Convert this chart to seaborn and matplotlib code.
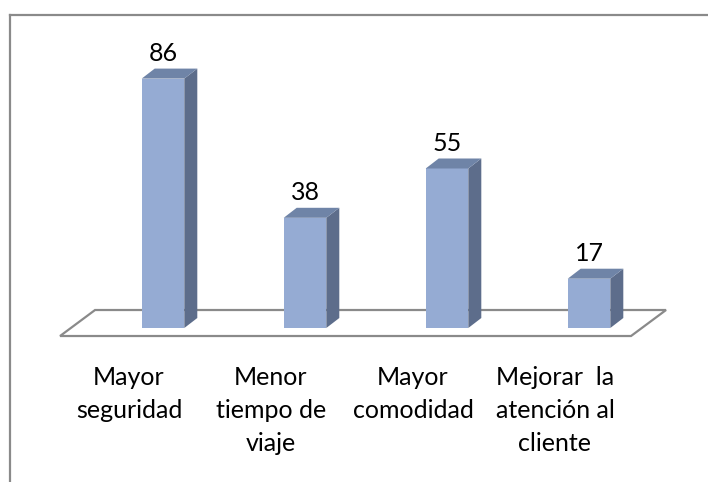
import pandas as pd
import matplotlib
matplotlib.use("Agg")
import matplotlib.pyplot as plt
import seaborn as sns
from matplotlib.patches import Polygon

# Data
categorias = ["Mayor\nseguridad", "Menor\ntiempo de\nviaje", "Mayor\ncomodidad", "Mejorar  la\natención al\ncliente"]
valores = [86, 38, 55, 17]

# Colours of the 3D bar faces
color_frente = "#95abd3"
color_lado = "#5d6d8b"
color_tapa = "#6f84a7"
color_borde = "#8a8a8a"

sns.set_theme(style="white")
plt.rcParams["font.family"] = ["Lato", "DejaVu Sans"]

fig = plt.figure(figsize=(7.08, 4.82), dpi=100)
ax = fig.add_axes([9.5 / 708, 0, 1 - 9.5 / 708, 1 - 14.5 / 482])

df = pd.DataFrame({"Categoria": categorias, "Valor": valores})

# Front faces of the bars
sns.barplot(data=df, x="Categoria", y="Valor", color=color_frente, saturation=1,
            width=0.3, ax=ax, zorder=3, linewidth=0)

ax.set_xlim(-1.081, 3.838)
ax.set_ylim(-53.1, 108.1)
fig.canvas.draw()

to_disp = ax.transData.transform
to_data = ax.transData.inverted().transform

# Depth of the fake 3D effect, in pixels
prof_x, prof_y = 13, 10

def desplazar(puntos, dx, dy):
    disp = to_disp(puntos)
    disp[:, 0] += dx
    disp[:, 1] += dy
    return to_data(disp)

for barra in list(ax.patches):
    x0, y0 = barra.get_x(), barra.get_y()
    w, h = barra.get_width(), barra.get_height()
    # right side face
    base = [[x0 + w, y0], [x0 + w, y0 + h]]
    lado = list(base) + list(desplazar(base, prof_x, prof_y)[::-1])
    ax.add_patch(Polygon(lado, closed=True, facecolor=color_lado, edgecolor="none", zorder=3))
    # top face
    borde = [[x0, y0 + h], [x0 + w, y0 + h]]
    tapa = list(borde) + list(desplazar(borde, prof_x, prof_y)[::-1])
    ax.add_patch(Polygon(tapa, closed=True, facecolor=color_tapa, edgecolor="none", zorder=3))

# Floor of the 3D chart
piso_y = -2.76
piso_frente = [[-0.725, piso_y], [3.296, piso_y]]
piso = list(piso_frente) + list(desplazar(piso_frente, 35, 26)[::-1])
ax.add_patch(Polygon(piso, closed=True, facecolor="white", edgecolor=color_borde,
                     linewidth=1.6, zorder=1))

# Value labels above each bar
for i, v in enumerate(valores):
    ax.annotate(str(v), xy=(i, v), xytext=(0, 12.5), textcoords="offset points",
                ha="center", va="baseline", fontsize=18, color="black")

# Category labels under the floor (shifted left by the perspective)
for i, c in enumerate(categorias):
    ax.annotate(c, xy=(i, 0), xytext=(-24.5, -27), textcoords="offset points",
                ha="center", va="top", fontsize=18, color="black",
                multialignment="center", linespacing=1.55)

ax.set_xticks([])
ax.set_yticks([])
ax.set_xlabel("")
ax.set_ylabel("")
for lado_eje in ["right", "bottom"]:
    ax.spines[lado_eje].set_visible(False)
for lado_eje in ["left", "top"]:
    ax.spines[lado_eje].set_color(color_borde)
    ax.spines[lado_eje].set_linewidth(1.6)

fig.savefig("out.png", dpi=100)
